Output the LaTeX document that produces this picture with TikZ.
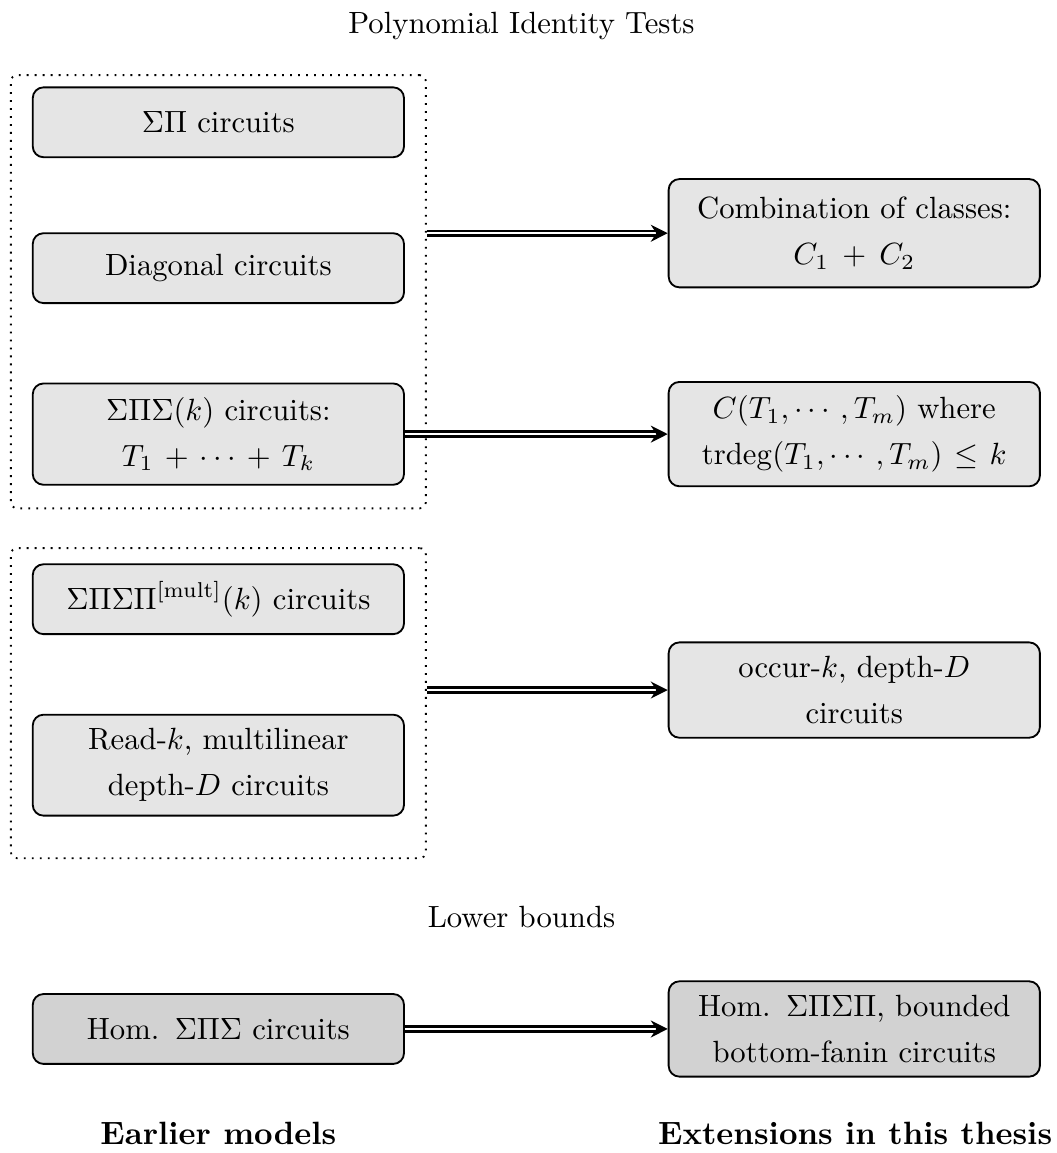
\documentclass[tikz,border=0pt]{standalone}
\usepackage{amsmath}
\usepackage{tikz}
\usetikzlibrary{arrows.meta}

\begin{document}
\begin{tikzpicture}[
  cls/.style={draw,semithick,fill=gray!20,rounded corners=3.5pt,
              minimum width=4.25cm,minimum height=0.8cm,text width=4cm,
              align=center,inner xsep=0.125cm,inner ysep=4.5pt,
              font={\fontsize{10pt}{15pt}\selectfont}},
  lbcls/.style={cls,fill=gray!35},
  grp/.style={draw,semithick,dotted,rounded corners=2pt,minimum width=4.75cm},
  impl/.style={thick,double,double distance=0.8pt,
               -{Stealth[length=5.5pt,width=5.5pt]}},
  hdr/.style={font=\normalsize},
  side/.style={font={\fontsize{10.5pt}{13pt}\selectfont\bfseries}},
]
\useasboundingbox (0,0) rectangle (12.10,-13.20);

% identity tests
\node[hdr] (pit) at (5.97,-0.30) {Polynomial Identity Tests};
\node[grp,minimum height=4.96cm] (grpA) at (2.50,-3.34) {};
\node[grp,minimum height=3.55cm] (grpB) at (2.50,-8.05) {};

\node[cls] (sp) at (2.50,-1.40) {$\Sigma\Pi$ circuits};
\node[cls] (diag) at (2.50,-3.07) {Diagonal circuits};
\node[cls] (sps) at (2.50,-4.97) {$\Sigma\Pi\Sigma(k)$ circuits:\\ $T_1+\cdots+T_k$};
\node[cls] (spsp) at (2.50,-6.86) {$\Sigma\Pi\Sigma\Pi^{[\mathrm{mult}]}(k)$ circuits};
\node[cls] (readk) at (2.50,-8.76) {Read-$k$, multilinear\\ depth-$D$ circuits};

\node[cls,minimum height=1.24cm] (comb) at (9.78,-2.67) {Combination of classes:\\ $C_1+C_2$};
\node[cls] (trdeg) at (9.78,-4.97) {$C(T_1,\cdots,T_m)$ where\\ $\mathrm{trdeg}(T_1,\cdots,T_m)\le k$};
\node[cls] (occur) at (9.78,-7.90) {occur-$k$, depth-$D$\\ circuits};

\draw[impl] (grpA.east |- comb.west) -- (comb.west);
\draw[impl] (sps.east) -- (trdeg.west);
\draw[impl] (grpB.east |- occur.west) -- (occur.west);

% lower bounds
\node[hdr] (lb) at (5.97,-10.50) {Lower bounds};
\node[lbcls] (hom) at (2.50,-11.78) {Hom. $\Sigma\Pi\Sigma$ circuits};
\node[lbcls] (homext) at (9.78,-11.78) {Hom. $\Sigma\Pi\Sigma\Pi$, bounded\\ bottom-fanin circuits};
\draw[impl] (hom.east) -- (homext.west);

\node[side] (earlier) at (2.50,-12.97) {Earlier models};
\node[side] (ext) at (9.79,-12.97) {Extensions in this thesis};
\end{tikzpicture}
\end{document}
